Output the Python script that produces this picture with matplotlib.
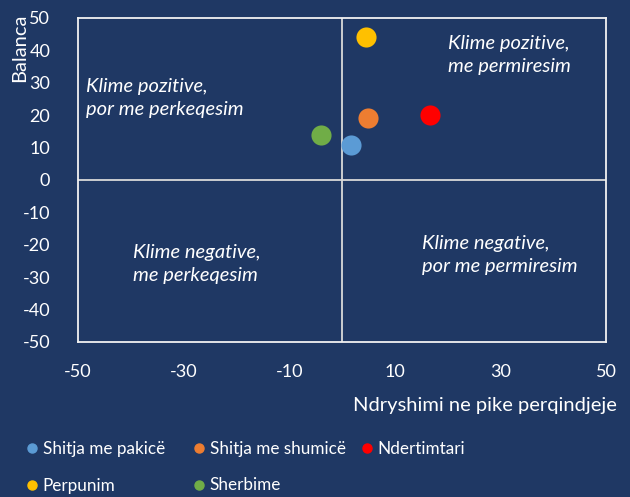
import matplotlib
matplotlib.use("Agg")
import matplotlib.pyplot as plt
from matplotlib.lines import Line2D

plt.rcParams['font.family'] = ['Lato', 'DejaVu Sans']
plt.rcParams['axes.unicode_minus'] = False

BG = '#1F3864'
FG = 'white'

series = ['Shitja me pakicë', 'Shitja me shumicë', 'Ndertimtari', 'Perpunim', 'Sherbime']
x_change = [1.7, 5.0, 16.7, 4.5, -3.9]
balance = [10.8, 19.0, 20.0, 44.2, 14.0]
colors = ['#5B9BD5', '#ED7D31', '#FF0000', '#FFC000', '#70AD47']

x_ticks = [-50, -30, -10, 10, 30, 50]
y_ticks = list(range(-50, 51, 10))

quadrant_labels = [
    (20.0, 38.5, 'Klime pozitive,\nme permiresim'),
    (-48.5, 25.3, 'Klime pozitive,\npor me perkeqesim'),
    (-39.6, -26.0, 'Klime negative,\nme perkeqesim'),
    (15.2, -23.2, 'Klime negative,\npor me permiresim'),
]

fig = plt.figure(figsize=(6.3, 4.97), dpi=100, facecolor=BG)
ax = fig.add_axes([78/630, 1-342/497, 528/630, 324/497], facecolor=BG)

ax.axhline(0, color='#D9D9D9', lw=1.3, zorder=1)
ax.axvline(0, color='#D9D9D9', lw=1.3, zorder=1)

for xv, yv, c, name in zip(x_change, balance, colors, series):
    ax.scatter([xv], [yv], s=210, color=c, zorder=3, linewidths=0, label=name)

for xv, yv, t in quadrant_labels:
    ax.text(xv, yv, t, color=FG, fontsize=14.5, style='italic', ha='left', va='center',
            linespacing=1.45)

ax.set_xlim(-50, 50)
ax.set_ylim(-50, 50)
ax.set_xticks(x_ticks)
ax.set_yticks(y_ticks)
ax.tick_params(colors=FG, labelsize=13, length=0)
ax.tick_params(axis='y', pad=20)
ax.tick_params(axis='x', pad=16)
for sp in ax.spines.values():
    sp.set_color('#F2F2F2')
    sp.set_linewidth(1.3)

fig.text(617/630, 1-405/497, 'Ndryshimi ne pike perqindjeje', color=FG, fontsize=14.5,
         ha='right', va='center')
fig.text(20/630, 1-14/497, 'Balanca', color=FG, fontsize=14.5, rotation=90,
         ha='center', va='top')

# legend in three fixed columns
cols = [[0, 3], [1, 4], [2]]
col_x = [28, 195, 363]
for ci, idxs in enumerate(cols):
    handles = [Line2D([], [], marker='o', ls='', color=colors[i], markersize=6.5) for i in idxs]
    labels = [series[i] for i in idxs]
    leg = fig.legend(handles, labels, loc='upper left',
                     bbox_to_anchor=(col_x[ci]/630, 1-441/497),
                     frameon=False, fontsize=12.3, handlelength=0.45, handletextpad=0.4,
                     labelspacing=1.2, borderpad=0, borderaxespad=0)
    for t in leg.get_texts():
        t.set_color(FG)

fig.savefig('out.png', dpi=100, facecolor=BG)
